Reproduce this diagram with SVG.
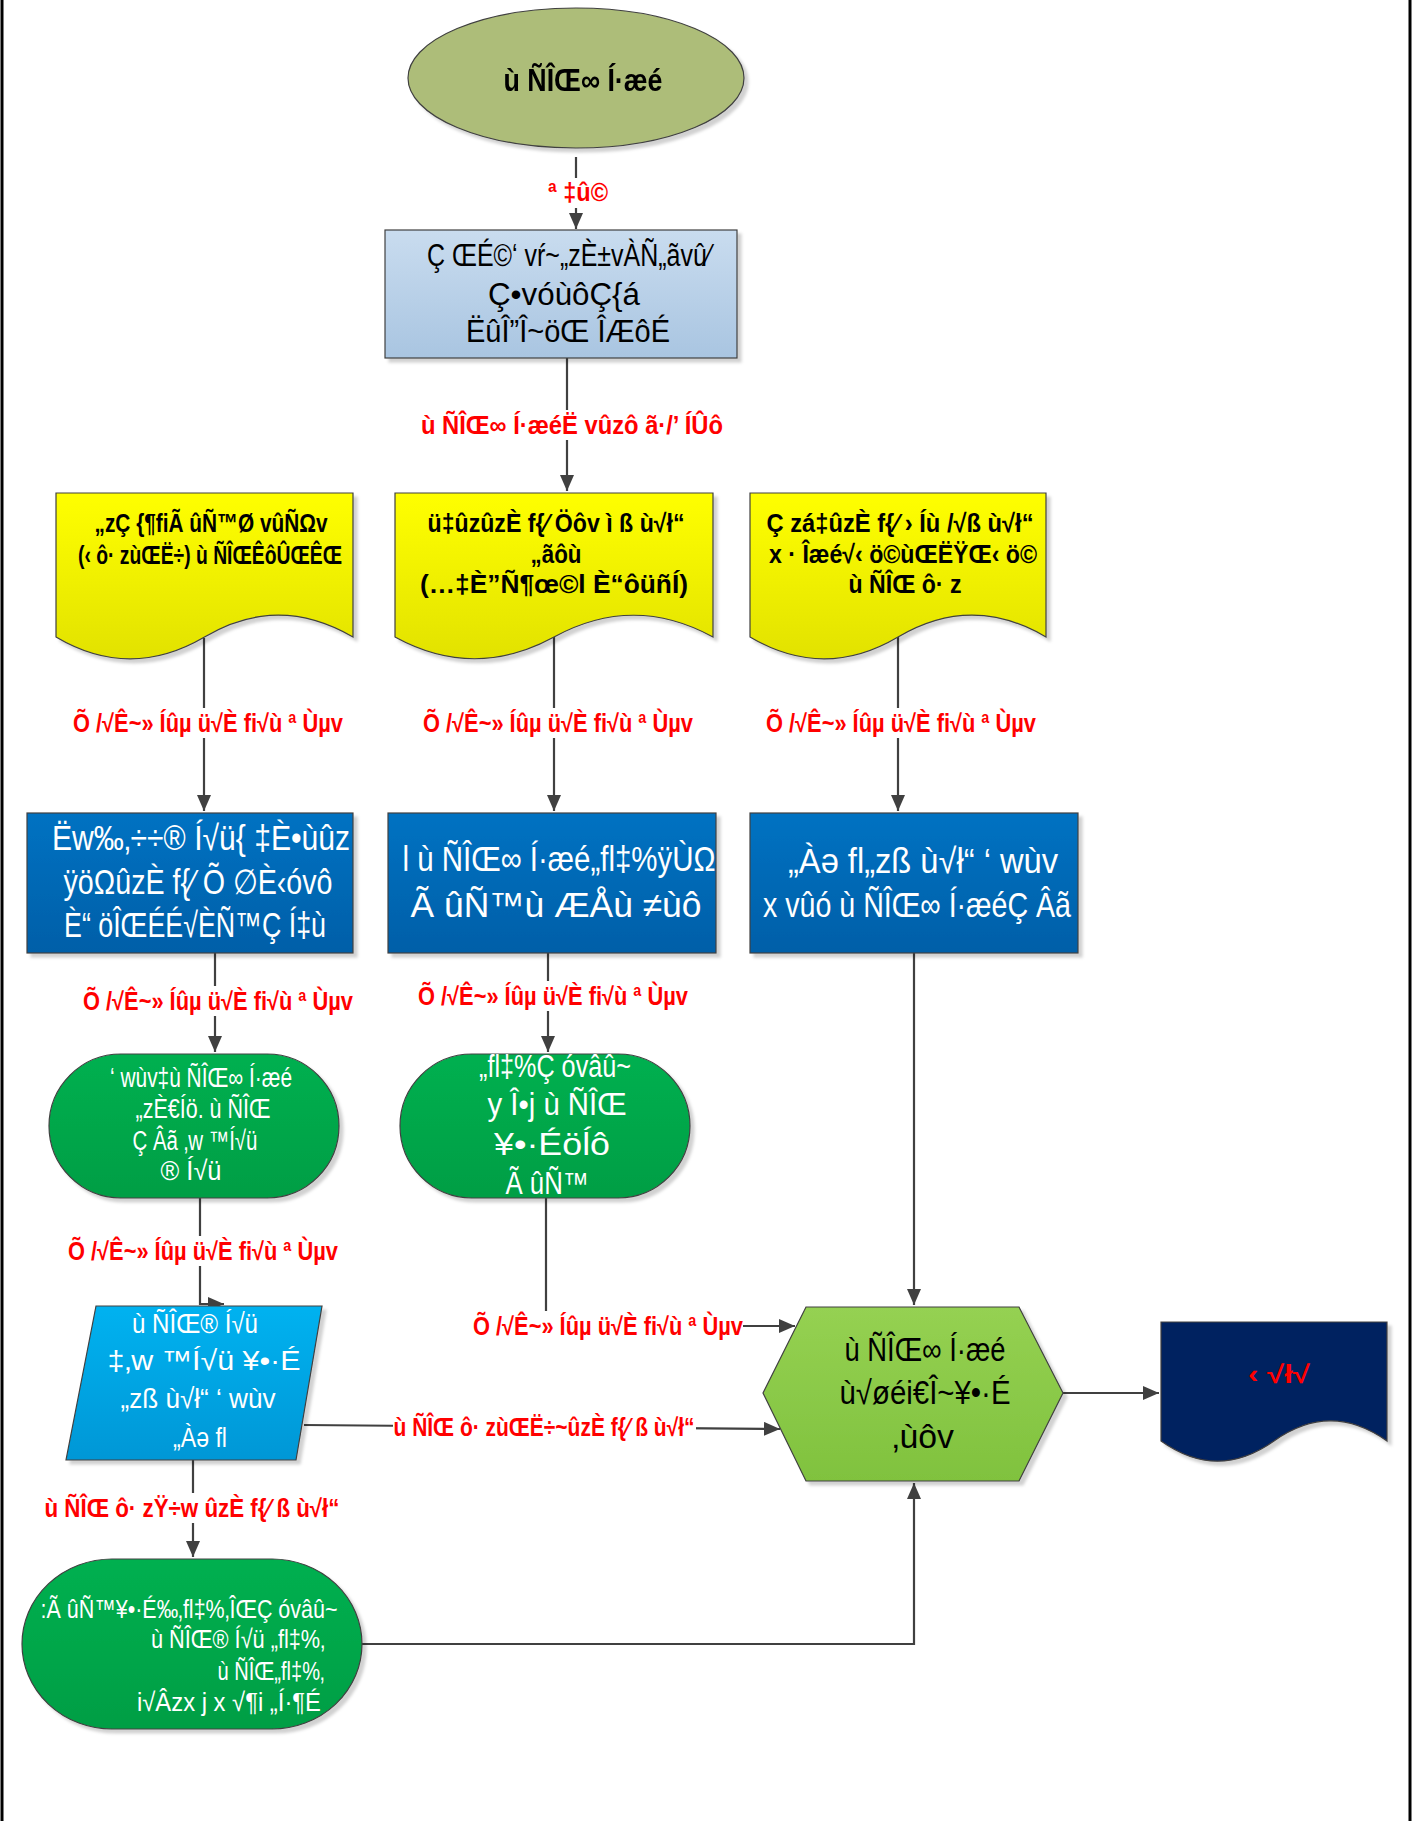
<svg xmlns="http://www.w3.org/2000/svg" width="1415" height="1821" viewBox="0 0 1415 1821">
<style>
.t{font-family:"Liberation Sans",Arial,sans-serif;text-anchor:middle;dominant-baseline:central}
.b{font-weight:bold}
.k{fill:#000}
.w{fill:#fff}
.r{fill:#ff0000;font-weight:bold;font-size:25px}
.ol{stroke:#404040;stroke-width:1.2}
.c{fill:none;stroke:#404040;stroke-width:2.2}
.lb{fill:#fff}
</style>
<defs>
<filter id="sh" x="-10%" y="-10%" width="125%" height="125%">
<feDropShadow dx="4" dy="4" stdDeviation="1.5" flood-color="#000" flood-opacity="0.18"/>
</filter>
<marker id="ar" markerUnits="userSpaceOnUse" markerWidth="16" markerHeight="14" refX="16" refY="7" orient="auto">
<path d="M0,0 L16,7 L0,14 z" fill="#404040"/>
</marker>
<linearGradient id="gRect" x1="0" y1="0" x2="0" y2="1"><stop offset="0" stop-color="#c9dcef"/><stop offset="1" stop-color="#a9c5e1"/></linearGradient>
<linearGradient id="gYel" x1="0" y1="0" x2="0" y2="1"><stop offset="0" stop-color="#ffff00"/><stop offset="1" stop-color="#e2e200"/></linearGradient>
<linearGradient id="gBlue" x1="0" y1="0" x2="0" y2="1"><stop offset="0" stop-color="#0072c2"/><stop offset="1" stop-color="#005fa8"/></linearGradient>
<linearGradient id="gGrn" x1="0" y1="0" x2="0" y2="1"><stop offset="0" stop-color="#00b050"/><stop offset="1" stop-color="#009e44"/></linearGradient>
<linearGradient id="gCyan" x1="0" y1="0" x2="0" y2="1"><stop offset="0" stop-color="#00b2f0"/><stop offset="1" stop-color="#0097d6"/></linearGradient>
<linearGradient id="gHex" x1="0" y1="0" x2="0" y2="1"><stop offset="0" stop-color="#95d152"/><stop offset="1" stop-color="#80c23e"/></linearGradient>
</defs>
<rect x="0" y="0" width="1415" height="1821" fill="#fff"/>
<g id="frame">
<line x1="2" y1="0" x2="2" y2="1821" stroke="#000" stroke-width="3"/>
<line x1="1410" y1="0" x2="1410" y2="1821" stroke="#000" stroke-width="3"/>
</g>

<g id="connectors">
<path class="c" d="M576,157 V229" marker-end="url(#ar)"/>
<path class="c" d="M567,358 V491" marker-end="url(#ar)"/>
<path class="c" d="M204,638 V811" marker-end="url(#ar)"/>
<path class="c" d="M554,637 V811" marker-end="url(#ar)"/>
<path class="c" d="M898,637 V811" marker-end="url(#ar)"/>
<path class="c" d="M215,953 V1052" marker-end="url(#ar)"/>
<path class="c" d="M548,953 V1052" marker-end="url(#ar)"/>
<path class="c" d="M914,953 V1305" marker-end="url(#ar)"/>
<path class="c" d="M200,1198 V1304 H224" marker-end="url(#ar)"/>
<path class="c" d="M546,1198 V1326 H795" marker-end="url(#ar)"/>
<path class="c" d="M304,1425 L780,1429" marker-end="url(#ar)"/>
<path class="c" d="M193,1460 V1557" marker-end="url(#ar)"/>
<path class="c" d="M362,1644 H914 V1483" marker-end="url(#ar)"/>
<path class="c" d="M1063,1393 H1159" marker-end="url(#ar)"/>
<g id="labels">
<rect class="lb" x="546" y="178" width="64" height="30"/>
<text class="t r" x="578" y="192" textLength="60" lengthAdjust="spacingAndGlyphs">ª ‡û©</text>
<rect class="lb" x="420" y="410" width="304" height="30"/>
<text class="t r" x="572" y="425" textLength="302" lengthAdjust="spacingAndGlyphs">ù ÑÎŒ∞ Í·æéË vûzô ã·/’ ÍÛô</text>
<rect class="lb" x="73" y="708" width="270" height="30"/>
<text class="t r" x="208" y="723" textLength="270" lengthAdjust="spacingAndGlyphs">Õ /√Ê~» Íûµ ü√È fi√ù ª Ùµv</text>
<rect class="lb" x="423" y="708" width="270" height="30"/>
<text class="t r" x="558" y="723" textLength="270" lengthAdjust="spacingAndGlyphs">Õ /√Ê~» Íûµ ü√È fi√ù ª Ùµv</text>
<rect class="lb" x="766" y="708" width="270" height="30"/>
<text class="t r" x="901" y="723" textLength="270" lengthAdjust="spacingAndGlyphs">Õ /√Ê~» Íûµ ü√È fi√ù ª Ùµv</text>
<rect class="lb" x="83" y="986" width="270" height="30"/>
<text class="t r" x="218" y="1001" textLength="270" lengthAdjust="spacingAndGlyphs">Õ /√Ê~» Íûµ ü√È fi√ù ª Ùµv</text>
<rect class="lb" x="418" y="981" width="270" height="30"/>
<text class="t r" x="553" y="996" textLength="270" lengthAdjust="spacingAndGlyphs">Õ /√Ê~» Íûµ ü√È fi√ù ª Ùµv</text>
<rect class="lb" x="68" y="1236" width="270" height="30"/>
<text class="t r" x="203" y="1251" textLength="270" lengthAdjust="spacingAndGlyphs">Õ /√Ê~» Íûµ ü√È fi√ù ª Ùµv</text>
<rect class="lb" x="473" y="1311" width="270" height="30"/>
<text class="t r" x="608" y="1326" textLength="270" lengthAdjust="spacingAndGlyphs">Õ /√Ê~» Íûµ ü√È fi√ù ª Ùµv</text>
<rect class="lb" x="393" y="1412" width="303" height="30"/>
<text class="t r" x="544" y="1427" textLength="301" lengthAdjust="spacingAndGlyphs">ù ÑÎŒ ô· zùŒË÷~ûzÈ f{⁄ ß ù√ł“</text>
<rect class="lb" x="44" y="1493" width="296" height="30"/>
<text class="t r" x="192" y="1508" textLength="295" lengthAdjust="spacingAndGlyphs">ù ÑÎŒ ô· zŸ÷w ûzÈ f{⁄ ß ù√ł“</text>
</g>
</g>

<g id="n_start" filter="url(#sh)">
<ellipse cx="576" cy="78" rx="168" ry="70" fill="#adbd79" class="ol"/>
<text class="t b k" x="583" y="80" font-size="31" textLength="159" lengthAdjust="spacingAndGlyphs">ù ÑÎŒ∞ Í·æé</text>
</g>

<g id="n_rect">
<rect x="385" y="230" width="352" height="128" fill="url(#gRect)" class="ol" filter="url(#sh)"/>
<text class="t k" x="569" y="255" font-size="31" textLength="284" lengthAdjust="spacingAndGlyphs">Ç ŒÉ©‘ vŕ~„zÈ±vÀÑ„ãvû⁄</text>
<text class="t k" x="564" y="294" font-size="31" textLength="152" lengthAdjust="spacingAndGlyphs">Ç•vóùôÇ{á</text>
<text class="t k" x="568" y="331" font-size="31" textLength="204" lengthAdjust="spacingAndGlyphs">ËûÎ”Î~öŒ  ÎÆôÉ</text>
</g>

<g id="n_doc1">
<path d="M56,493 H353 V637 C303,608 253,608 204.5,637 C155,666 105,666 56,637 Z" fill="url(#gYel)" class="ol" filter="url(#sh)"/>
<text class="t b k" x="211" y="523" font-size="26" textLength="233" lengthAdjust="spacingAndGlyphs">„zÇ {¶fiÃ  ûÑ™Ø vûÑΩv</text>
<text class="t b k" x="210" y="555" font-size="26" textLength="264" lengthAdjust="spacingAndGlyphs">(‹ ô· zùŒË÷) ù ÑÎŒÊôÛŒÊŒ</text>
</g>

<g id="n_doc2">
<path d="M395,493 H713 V637 C660,608 607,608 554,637 C501,666 448,666 395,637 Z" fill="url(#gYel)" class="ol" filter="url(#sh)"/>
<text class="t b k" x="556" y="523" font-size="26" textLength="257" lengthAdjust="spacingAndGlyphs">ü‡ûzûzÈ f{⁄ Öôv ì  ß ù√ł“</text>
<text class="t b k" x="556" y="554" font-size="26" textLength="51" lengthAdjust="spacingAndGlyphs">„ãôù</text>
<text class="t b k" x="554" y="584" font-size="26" textLength="268" lengthAdjust="spacingAndGlyphs">(…‡È”Ñ¶œ©l È“ôüñÍ)</text>
</g>

<g id="n_doc3">
<path d="M750,493 H1046 V637 C997,608 947,608 898,637 C849,666 799,666 750,637 Z" fill="url(#gYel)" class="ol" filter="url(#sh)"/>
<text class="t b k" x="900" y="523" font-size="26" textLength="267" lengthAdjust="spacingAndGlyphs">Ç zá‡ûzÈ f{⁄ › Íù /√ß ù√ł“</text>
<text class="t b k" x="903" y="554" font-size="26" textLength="268" lengthAdjust="spacingAndGlyphs">x · Îæé√‹ ö©ùŒËŸŒ‹ ö©</text>
<text class="t b k" x="905" y="584" font-size="26" textLength="113" lengthAdjust="spacingAndGlyphs">ù ÑÎŒ ô· z</text>
</g>

<g id="n_box1">
<rect x="27" y="813" width="326" height="140" fill="url(#gBlue)" class="ol" filter="url(#sh)"/>
<text class="t w" x="201" y="837" font-size="35" textLength="298" lengthAdjust="spacingAndGlyphs">Ëw‰‚÷÷® Í√ü{ ‡È•ùûz</text>
<text class="t w" x="198" y="881" font-size="35" textLength="269" lengthAdjust="spacingAndGlyphs">ÿöΩûzÈ f{⁄ Õ ∅È‹óvô</text>
<text class="t w" x="195" y="924" font-size="35" textLength="262" lengthAdjust="spacingAndGlyphs">È“ öÎŒÉÉ√ÈÑ™Ç Í‡ù</text>
</g>

<g id="n_box2">
<rect x="388" y="813" width="328" height="140" fill="url(#gBlue)" class="ol" filter="url(#sh)"/>
<text class="t w" x="559" y="858" font-size="35" textLength="313" lengthAdjust="spacingAndGlyphs">l ù ÑÎŒ∞ Í·æé„fl‡%ÿÙΩ</text>
<text class="t w" x="556" y="904" font-size="35" textLength="291" lengthAdjust="spacingAndGlyphs">Ã ûÑ™ù ÆÅù ≠ùô</text>
</g>

<g id="n_box3">
<rect x="750" y="813" width="328" height="140" fill="url(#gBlue)" class="ol" filter="url(#sh)"/>
<text class="t w" x="923" y="860" font-size="35" textLength="270" lengthAdjust="spacingAndGlyphs">„Àə fl„zß ù√ł“ ‘ wùv</text>
<text class="t w" x="917" y="904" font-size="35" textLength="308" lengthAdjust="spacingAndGlyphs">x vûó ù ÑÎŒ∞ Í·æéÇ Âã</text>
</g>

<g id="n_term1">
<path d="M121,1054 H267 A72,72 0 0 1 267,1198 H121 A72,72 0 0 1 121,1054 Z" fill="url(#gGrn)" class="ol" filter="url(#sh)"/>
<text class="t w" x="201" y="1078" font-size="27" textLength="182" lengthAdjust="spacingAndGlyphs">‘ wùv‡ù ÑÎŒ∞ Í·æé</text>
<text class="t w" x="203" y="1109" font-size="27" textLength="135" lengthAdjust="spacingAndGlyphs">„zÈ€Íö. ù ÑÎŒ</text>
<text class="t w" x="195" y="1141" font-size="27" textLength="125" lengthAdjust="spacingAndGlyphs">Ç Âã ‚w ™Í√ü</text>
<text class="t w" x="191" y="1171" font-size="27" textLength="61" lengthAdjust="spacingAndGlyphs">® Í√ü</text>
</g>

<g id="n_term2">
<path d="M472,1054 H618 A72,72 0 0 1 618,1198 H472 A72,72 0 0 1 472,1054 Z" fill="url(#gGrn)" class="ol" filter="url(#sh)"/>
<text class="t w" x="555" y="1066" font-size="31" textLength="152" lengthAdjust="spacingAndGlyphs">„fl‡%Ç óvâû~</text>
<text class="t w" x="557" y="1104" font-size="31" textLength="139" lengthAdjust="spacingAndGlyphs">y Î•j ù ÑÎŒ</text>
<text class="t w" x="552" y="1144" font-size="31" textLength="116" lengthAdjust="spacingAndGlyphs">¥•·Éöĺô</text>
<text class="t w" x="547" y="1183" font-size="31" textLength="83" lengthAdjust="spacingAndGlyphs">Ã ûÑ™</text>
</g>

<g id="n_para">
<path d="M96,1306 H322 L296,1460 H66 Z" fill="url(#gCyan)" class="ol" filter="url(#sh)"/>
<text class="t w" x="195" y="1323" font-size="28" textLength="126" lengthAdjust="spacingAndGlyphs">ù ÑÎŒ® Í√ü</text>
<text class="t w" x="204" y="1360" font-size="28" textLength="193" lengthAdjust="spacingAndGlyphs">‡‚w ™Í√ü ¥•·É</text>
<text class="t w" x="198" y="1398" font-size="28" textLength="155" lengthAdjust="spacingAndGlyphs">„zß ù√ł“ ‘ wùv</text>
<text class="t w" x="200" y="1437" font-size="28" textLength="54" lengthAdjust="spacingAndGlyphs">„Àə fl</text>
</g>

<g id="n_term3">
<path d="M112,1559 H272 A90,85 0 0 1 272,1729 H112 A90,85 0 0 1 112,1559 Z" fill="url(#gGrn)" class="ol" filter="url(#sh)"/>
<text class="t w" x="189" y="1609" font-size="26" textLength="297" lengthAdjust="spacingAndGlyphs">:Ã ûÑ™¥•·É‰‚fl‡%‚ÎŒÇ óvâû~</text>
<text class="t w" x="238" y="1639" font-size="26" textLength="174" lengthAdjust="spacingAndGlyphs">ù ÑÎŒ® Í√ü „fl‡%‚</text>
<text class="t w" x="271" y="1671" font-size="26" textLength="107" lengthAdjust="spacingAndGlyphs">ù ÑÎŒ„fl‡%‚</text>
<text class="t w" x="229" y="1702" font-size="26" textLength="184" lengthAdjust="spacingAndGlyphs">i√Âzx j x √¶i „Í·¶É</text>
</g>

<g id="n_hex">
<path d="M763,1393 L806,1307 H1019 L1063,1393 L1019,1481 H806 Z" fill="url(#gHex)" class="ol" filter="url(#sh)"/>
<text class="t k" x="925" y="1349" font-size="33" textLength="161" lengthAdjust="spacingAndGlyphs">ù ÑÎŒ∞ Í·æé</text>
<text class="t k" x="925" y="1392" font-size="33" textLength="171" lengthAdjust="spacingAndGlyphs">ù√øéi€Î~¥•·É</text>
<text class="t k" x="923" y="1436" font-size="33" textLength="62" lengthAdjust="spacingAndGlyphs">‚ùôv</text>
</g>

<g id="n_end">
<path d="M1161,1322 H1387 V1441 C1349,1414 1312,1414 1274,1441 C1236,1468 1199,1468 1161,1441 Z" fill="#002060" class="ol" filter="url(#sh)"/>
<text class="t r" x="1279" y="1374" textLength="62" lengthAdjust="spacingAndGlyphs">‹ √ł√</text>
</g>
</svg>
